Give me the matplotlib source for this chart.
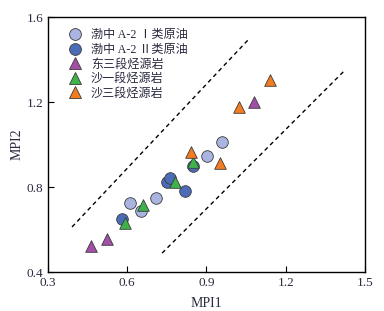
import matplotlib
matplotlib.use("Agg")
import matplotlib.pyplot as plt
from matplotlib.lines import Line2D

plt.rcParams['font.family'] = ['Liberation Serif', 'Noto Sans CJK SC', 'DejaVu Sans']

# data
type1_x = [0.610, 0.652, 0.709, 0.902, 0.959]
type1_y = [0.725, 0.687, 0.748, 0.946, 1.012]
type2_x = [0.579, 0.749, 0.762, 0.820, 0.850]
type2_y = [0.649, 0.822, 0.841, 0.781, 0.899]
dong3_x = [0.462, 0.522, 1.080]
dong3_y = [0.522, 0.555, 1.201]
sha1_x = [0.593, 0.661, 0.782, 0.850]
sha1_y = [0.629, 0.715, 0.822, 0.920]
sha3_x = [0.841, 0.951, 1.022, 1.140]
sha3_y = [0.963, 0.912, 1.175, 1.304]

upper_x = [0.391, 1.057]
upper_y = [0.612, 1.492]
lower_x = [0.732, 1.424]
lower_y = [0.489, 1.350]

labels = ['渤中 A-2 Ⅰ类原油', '渤中 A-2 Ⅱ类原油', '东三段烃源岩', '沙一段烃源岩', '沙三段烃源岩']
colors = ['#aab4e0', '#4d6cb8', '#a24fa6', '#3db34a', '#f47c20']
xticks = [0.3, 0.6, 0.9, 1.2, 1.5]
yticks = [0.4, 0.8, 1.2, 1.6]

fig = plt.figure(figsize=(3.84, 3.11), dpi=100)
ax = fig.add_axes([0.125, 0.1254, 0.8255, 0.8196])

dash = (0, (3, 2.5))
ax.plot(upper_x, upper_y, color='black', lw=1.0, linestyle=dash)
ax.plot(lower_x, lower_y, color='black', lw=1.0, linestyle=dash)

ec = '#3a3a3a'
s = 70
ax.scatter(type1_x, type1_y, s=s, marker='o', c=colors[0], edgecolors=ec, linewidths=0.6, zorder=3)
ax.scatter(type2_x, type2_y, s=s, marker='o', c=colors[1], edgecolors=ec, linewidths=0.6, zorder=3)
ax.scatter(dong3_x, dong3_y, s=s, marker='^', c=colors[2], edgecolors=ec, linewidths=0.6, zorder=4)
ax.scatter(sha1_x, sha1_y, s=s, marker='^', c=colors[3], edgecolors=ec, linewidths=0.6, zorder=4)
ax.scatter(sha3_x, sha3_y, s=s, marker='^', c=colors[4], edgecolors=ec, linewidths=0.6, zorder=4)

ax.set_xlim(0.3, 1.5)
ax.set_ylim(0.4, 1.6)
ax.set_xticks(xticks)
ax.set_yticks(yticks)
ax.set_xticklabels([f'{v:.1f}' for v in xticks])
ax.set_yticklabels([f'{v:.1f}' for v in yticks])
tc = '#2a2a40'
ax.tick_params(direction='in', length=4, width=0.8, labelsize=9.5, colors='black', labelcolor=tc, top=False, right=False)
for sp in ax.spines.values():
    sp.set_linewidth(1.0)

ax.set_xlabel('MPI1', fontsize=10, color=tc, labelpad=6)
ax.set_ylabel('MPI2', fontsize=10, color=tc, labelpad=2)

markers = ['o', 'o', '^', '^', '^']
handles = [Line2D([], [], linestyle='none', marker=m, markersize=8.5, markerfacecolor=c,
                  markeredgecolor=ec, markeredgewidth=0.6) for m, c in zip(markers, colors)]
leg = ax.legend(handles, labels, loc='upper left', frameon=False, fontsize=8.7,
                handletextpad=0.3, labelspacing=0.22, borderaxespad=0.0,
                bbox_to_anchor=(0.033, 0.972))
for t in leg.get_texts():
    t.set_color(tc)

fig.savefig('out.png', dpi=100)
